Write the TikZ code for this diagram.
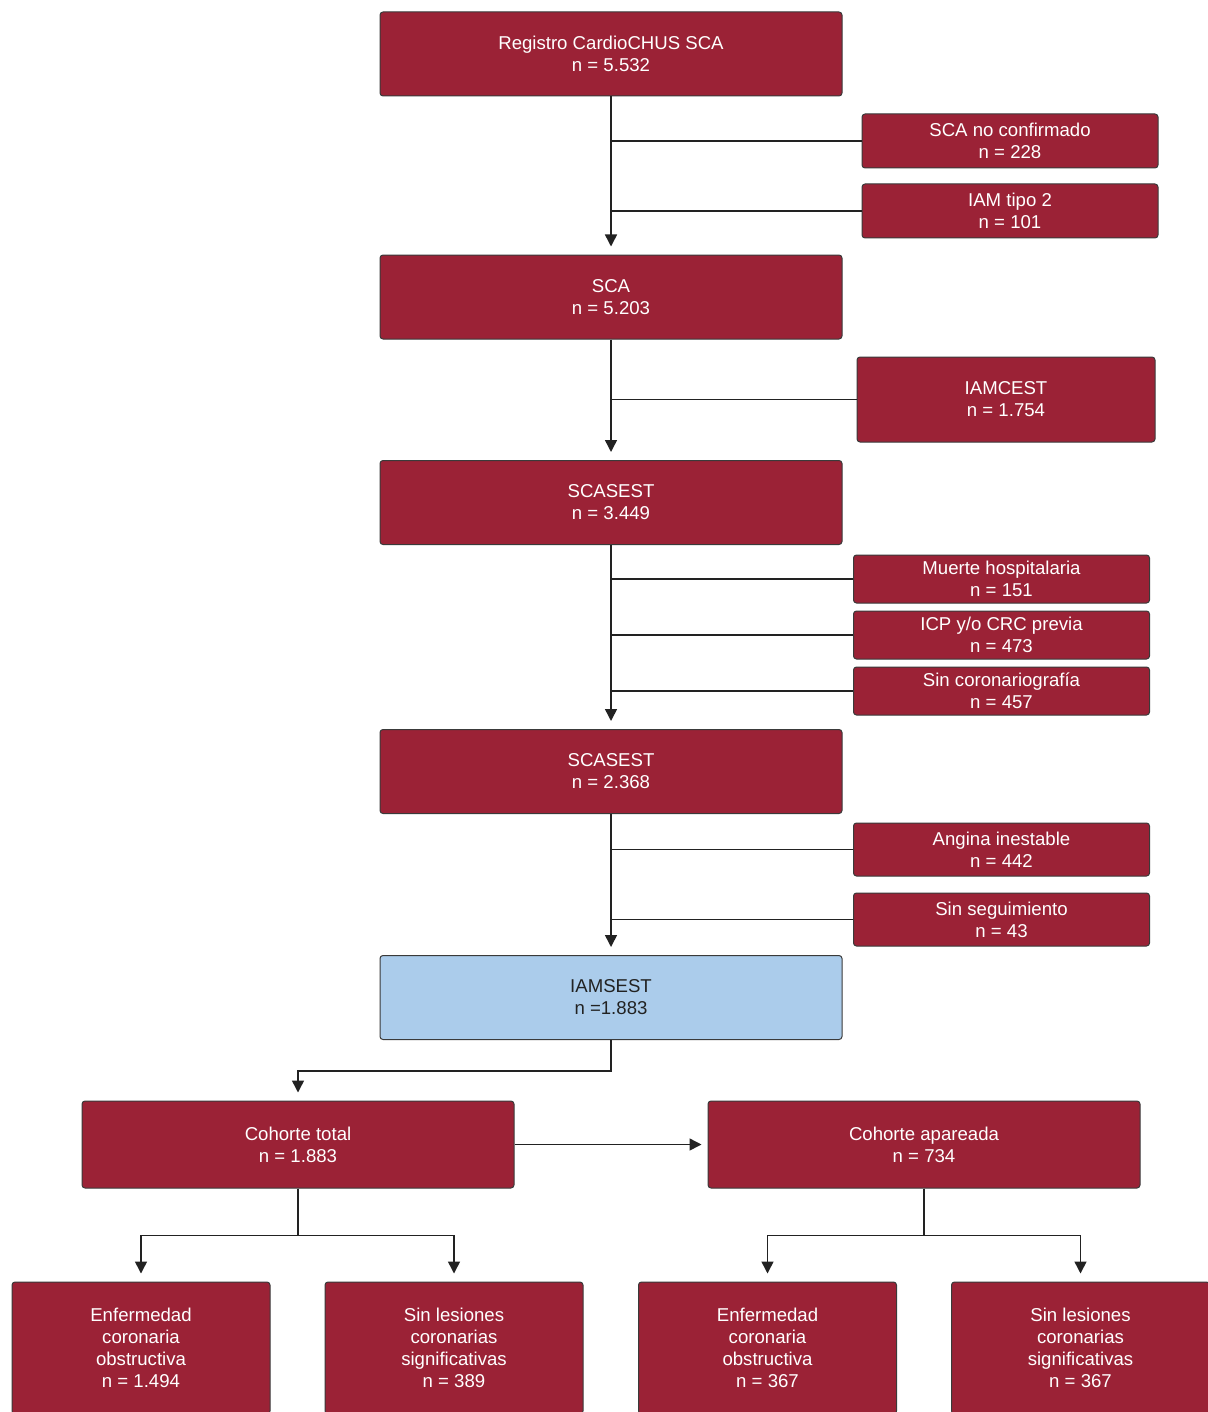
\documentclass[tikz,border=0pt]{standalone}
\usepackage{fontspec}
\setmainfont{Liberation Sans}
\usetikzlibrary{arrows.meta,positioning,calc}
\definecolor{FlowRed}{HTML}{9B2236}
\definecolor{FlowBlue}{HTML}{ABCCEB}
\definecolor{FlowLine}{HTML}{222222}
\definecolor{FlowEdge}{HTML}{3A3A3A}

\begin{document}
\begin{tikzpicture}[
    x=0.5pt, y=-0.5pt,
    box/.style={
      draw=FlowEdge,
      line width=0.5pt,
      fill=#1,
      text=white,
      rounded corners=1.5pt,
      inner sep=0pt,
      font=\fontsize{9.3}{11}\selectfont,
      align=center
    },
    box/.default=FlowRed,
    mainbox/.style={box, minimum width=231pt, minimum height=42pt},
    sidebox/.style={box, minimum width=148pt, minimum height=27pt},
    cohortbox/.style={box, minimum width=216pt, minimum height=43.5pt},
    leafbox/.style={box, minimum width=129pt, minimum height=66pt},
    line/.style={line width=0.75pt, color=FlowLine},
    arrow/.style={
      line,
      -{Triangle[width=6pt,length=6pt]},
      shorten >=4pt
    }
  ]

  \useasboundingbox (0,0) rectangle (1207,1412);

  % Main column
  \node[mainbox] (reg)      at (611,54)    {Registro CardioCHUS SCA\\n = 5.532};
  \node[mainbox] (sca)      at (611,297)   {SCA\\n = 5.203};
  \node[mainbox] (scasest)  at (611,502.5) {SCASEST\\n = 3.449};
  \node[mainbox] (scasestb) at (611,771.5) {SCASEST\\n = 2.368};
  \node[mainbox, fill=FlowBlue, text=FlowLine] (iamsest) at (611,997.5)
    {IAMSEST\\n =1.883};

  % Exclusions
  \node[sidebox] (noconf)  at (1010,141)  {SCA no confirmado\\n = 228};
  \node[sidebox] (tipo)    at (1010,211)  {IAM tipo 2\\n = 101};
  \node[sidebox, minimum width=149pt, minimum height=42.5pt] (iamcest)
    at (1006,399.5) {IAMCEST\\n = 1.754};
  \node[sidebox, minimum height=24pt] (muerte) at (1001.5,579) {Muerte hospitalaria\\n = 151};
  \node[sidebox, minimum height=24pt] (icp)    at (1001.5,635) {ICP y/o CRC previa\\n = 473};
  \node[sidebox, minimum height=24pt] (sincor) at (1001.5,691) {Sin coronariografía\\n = 457};
  \node[sidebox, minimum height=26.5pt] (angina) at (1001.5,849.5) {Angina inestable\\n = 442};
  \node[sidebox, minimum height=26.5pt] (sinseg) at (1001.5,919.5) {Sin seguimiento\\n = 43};

  % Cohorts
  \node[cohortbox] (total) at (298,1144.5) {Cohorte total\\n = 1.883};
  \node[cohortbox] (apar)  at (924,1144.5) {Cohorte apareada\\n = 734};

  % Outcomes
  \node[leafbox] (totobs)  at (141,1348)   {Enfermedad\\coronaria\\obstructiva\\n = 1.494};
  \node[leafbox] (totsin)  at (454,1348)   {Sin lesiones\\coronarias\\significativas\\n = 389};
  \node[leafbox] (aparobs) at (767.5,1348) {Enfermedad\\coronaria\\obstructiva\\n = 367};
  \node[leafbox] (aparsin) at (1080.5,1348) {Sin lesiones\\coronarias\\significativas\\n = 367};

  % Main arrows
  \draw[arrow] (reg.south)      -- (sca.north);
  \draw[arrow] (sca.south)      -- (scasest.north);
  \draw[arrow] (scasest.south)  -- (scasestb.north);
  \draw[arrow] (scasestb.south) -- (iamsest.north);

  % Exclusion branches
  \draw[line] (noconf.west)  -- (reg.south |- noconf.west);
  \draw[line] (tipo.west)    -- (reg.south |- tipo.west);
  \draw[line] (iamcest.west) -- (sca.south |- iamcest.west);
  \draw[line] (muerte.west)  -- (scasest.south |- muerte.west);
  \draw[line] (icp.west)     -- (scasest.south |- icp.west);
  \draw[line] (sincor.west)  -- (scasest.south |- sincor.west);
  \draw[line] (angina.west)  -- (scasestb.south |- angina.west);
  \draw[line] (sinseg.west)  -- (scasestb.south |- sinseg.west);

  % Cohorts
  \draw[arrow] (iamsest.south) -- ++(0,31) -| (total.north);
  \draw[arrow, shorten >=3pt] (total.east) -- (apar.west);

  % Outcomes
  \draw[arrow] (total.south) -- ++(0,47) -| (totobs.north);
  \draw[arrow] (total.south) -- ++(0,47) -| (totsin.north);
  \draw[arrow] (apar.south)  -- ++(0,47) -| (aparobs.north);
  \draw[arrow] (apar.south)  -- ++(0,47) -| (aparsin.north);

\end{tikzpicture}
\end{document}
